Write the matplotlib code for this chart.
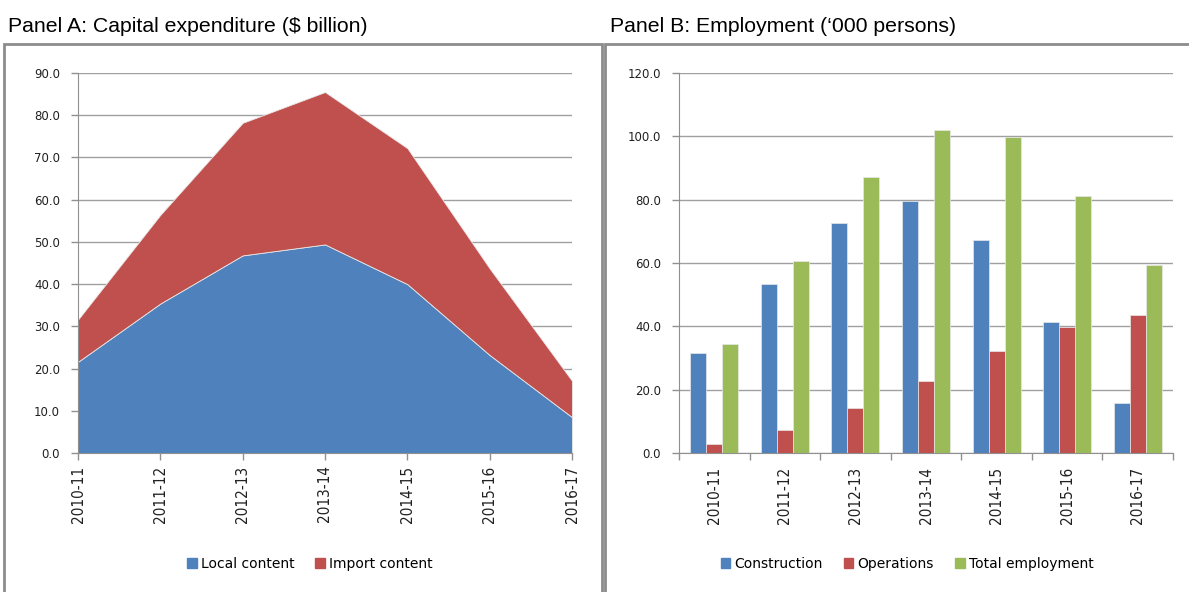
import matplotlib
matplotlib.use('agg')
import matplotlib.pyplot as plt
from matplotlib.patches import Rectangle, Patch
import numpy as np

years = ['2010-11', '2011-12', '2012-13', '2013-14', '2014-15', '2015-16', '2016-17']

# Panel A: capital expenditure ($ billion)
local_content = [21.6, 35.4, 46.8, 49.4, 40.0, 23.2, 8.5]
import_content = [10.0, 21.0, 31.4, 36.1, 32.2, 20.5, 8.6]

# Panel B: employment ('000 persons)
construction = [31.6, 53.3, 72.7, 79.5, 67.4, 41.5, 15.8]
operations = [2.9, 7.4, 14.3, 22.7, 32.3, 39.9, 43.6]
total_employment = [34.4, 60.5, 87.2, 102.1, 99.8, 81.2, 59.4]

BLUE = '#4f81bd'
RED = '#c0504d'
GREEN = '#9bbb59'
GRID = '#a0a0a0'
W, H = 1189, 592


def px_axes(fig, x0, y0, x1, y1):
    # pixel box (top-left origin) -> figure axes
    return fig.add_axes([x0 / W, 1 - y1 / H, (x1 - x0) / W, (y1 - y0) / H])


def style_axes(ax, ymax, step):
    ax.set_ylim(0, ymax)
    ax.set_yticks(np.arange(0, ymax + 0.01, step))
    ax.set_yticklabels([f'{v:.1f}' for v in np.arange(0, ymax + 0.01, step)])
    ax.yaxis.grid(True, color=GRID, linewidth=1.0)
    ax.set_axisbelow(True)
    for s in ['top', 'right']:
        ax.spines[s].set_visible(False)
    for s in ['left', 'bottom']:
        ax.spines[s].set_color('#909090')
    ax.tick_params(axis='both', colors='#909090', length=5, width=1,
                   labelcolor='#202020', labelsize=8.5)
    ax.tick_params(axis='y', pad=8)
    ax.tick_params(axis='x', pad=4)


def xlabels(ax):
    ax.set_xticks(np.arange(len(years)))
    ax.set_xticklabels(years, rotation=90, fontsize=11, fontstretch='condensed')


fig = plt.figure(figsize=(W / 100, H / 100), dpi=100)

# panel frames
fig.patches.append(Rectangle((4 / W, -0.01), (602 - 4) / W, 1 - 44 / H + 0.01, transform=fig.transFigure,
                             fill=False, edgecolor='#8c8c8c', linewidth=2))
fig.patches.append(Rectangle((605 / W, -0.01), (W + 10 - 605) / W, 1 - 44 / H + 0.01, transform=fig.transFigure,
                             fill=False, edgecolor='#8c8c8c', linewidth=2))

fig.text(8 / W, 1 - 26 / H, 'Panel A: Capital expenditure ($ billion)', fontsize=15.3,
         family='Liberation Sans', va='center', ha='left')
fig.text(610 / W, 1 - 26 / H, 'Panel B: Employment (\u2018000 persons)', fontsize=15.3,
         family='Liberation Sans', va='center', ha='left')

# Panel A - stacked area
ax1 = px_axes(fig, 78, 73, 572, 453)
x = np.arange(len(years))
ax1.stackplot(x, local_content, import_content, colors=[BLUE, RED],
              edgecolor='#e8e8e8', linewidth=0.6)
ax1.set_xlim(0, len(years) - 1)
style_axes(ax1, 90, 10)
xlabels(ax1)
ax1.legend(handles=[Patch(color=BLUE, label='Local content'), Patch(color=RED, label='Import content')],
           loc='center', bbox_to_anchor=(310 / W, 1 - 564 / H), bbox_transform=fig.transFigure,
           ncol=2, frameon=False, fontsize=10, handlelength=0.7, handleheight=0.7,
           handletextpad=0.3, columnspacing=1.5)

# Panel B - grouped bars
ax2 = px_axes(fig, 679, 73, 1173, 453)
bw = 0.227
ax2.bar(x - bw, construction, bw, color=BLUE, edgecolor='#e8e8e8', linewidth=0.5)
ax2.bar(x, operations, bw, color=RED, edgecolor='#e8e8e8', linewidth=0.5)
ax2.bar(x + bw, total_employment, bw, color=GREEN, edgecolor='#e8e8e8', linewidth=0.5)
ax2.set_xlim(-0.5, len(years) - 0.5)
style_axes(ax2, 120, 20)
xlabels(ax2)
ax2.tick_params(axis='x', length=0, pad=10)
ax2.set_xticks(np.arange(-0.5, len(years)), minor=True)
ax2.tick_params(axis='x', which='minor', length=5, width=1, colors='#909090')
ax2.legend(handles=[Patch(color=BLUE, label='Construction'), Patch(color=RED, label='Operations'),
                    Patch(color=GREEN, label='Total employment')],
           loc='center', bbox_to_anchor=(907 / W, 1 - 564 / H), bbox_transform=fig.transFigure,
           ncol=3, frameon=False, fontsize=10, handlelength=0.7, handleheight=0.7,
           handletextpad=0.3, columnspacing=1.5)

fig.savefig('out.png', dpi=100)
